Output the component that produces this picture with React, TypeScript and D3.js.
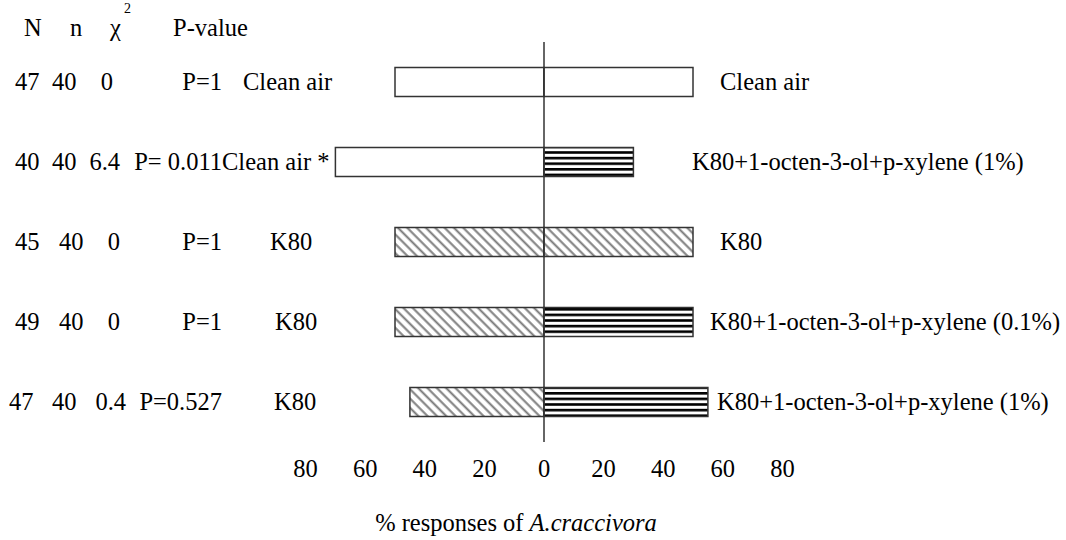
import React from "react";
import * as d3 from "d3";

// ---- data ----
const rowIds = ["r1", "r2", "r3", "r4", "r5"];
const totalN = ["47", "40", "45", "49", "47"];
const respondN = ["40", "40", "40", "40", "40"];
const chiSq = ["0", "6.4", "0", "0", "0.4"];
const pValues = ["P=1", "P= 0.011", "P=1", "P=1", "P=0.527"];
const leftLabels = ["Clean air", "Clean air *", "K80", "K80", "K80"];
const rightLabels = [
  "Clean air",
  "K80+1-octen-3-ol+p-xylene (1%)",
  "K80",
  "K80+1-octen-3-ol+p-xylene (0.1%)",
  "K80+1-octen-3-ol+p-xylene (1%)",
];
const leftValues = [50, 70, 50, 50, 45];
const rightValues = [50, 30, 50, 50, 55];
const leftFills = ["open", "open", "diag", "diag", "diag"];
const rightFills = ["open", "stripe", "diag", "stripe", "stripe"];
const xTicks = [-80, -60, -40, -20, 0, 20, 40, 60, 80];

// ---- layout (positions only) ----
const W = 1066;
const H = 540;
const FS = 24.5;
const FAMILY = `"Times New Roman"`;
const colNx = [15, 15, 15, 15, 9];
const colnX = [52, 52, 59, 59, 52];
const colChiRight = [113, 120, 120, 120, 126];
const colPRight = 222;
const leftLabelX = [243, 222, 270, 275, 274];
const rightLabelX = [720, 692, 720, 710, 717];

export default function App() {
  const x = d3.scaleLinear().domain([-80, 80]).range([305.6, 782.4]);
  const y = d3.scalePoint<string>().domain(rowIds).range([42, 442]).padding(0.5);
  const barH = 29;
  const fillOf = (k: string) =>
    k === "open" ? "#ffffff" : k === "diag" ? "url(#diagHatch)" : "url(#hStripe)";
  const st = { fontFamily: FAMILY, fontSize: FS };

  return (
    <svg width={W} height={H} style={{ position: "absolute", left: 0, top: 0 }}>
      <defs>
        <pattern
          id="diagHatch"
          patternUnits="userSpaceOnUse"
          width={6.6}
          height={6.6}
          patternTransform="rotate(-45)"
        >
          <rect width={6.6} height={6.6} fill="#fff" />
          <line x1={1.5} y1={0} x2={1.5} y2={6.6} stroke="#7a7a7a" strokeWidth={2} />
        </pattern>
        <pattern id="hStripe" patternUnits="userSpaceOnUse" width={10} height={5.6}>
          <rect width={10} height={5.6} fill="#fff" />
          <rect y={0} width={10} height={2.6} fill="#000" />
        </pattern>
      </defs>

      {/* header */}
      <text x={24} y={36} style={st}>N</text>
      <text x={70} y={36} style={st}>n</text>
      <text x={110} y={36} style={st}>χ</text>
      <text x={124} y={13} style={{ fontFamily: FAMILY, fontSize: 14 }}>2</text>
      <text x={173} y={36} style={st}>P-value</text>

      {/* bars */}
      {rowIds.map((id, i) => {
        const cy = y(id)!;
        return (
          <g key={"bar" + id}>
            <rect
              x={x(-leftValues[i])}
              y={cy - barH / 2}
              width={x(0) - x(-leftValues[i])}
              height={barH}
              fill={fillOf(leftFills[i])}
              stroke="#333"
              strokeWidth={1.5}
            />
            <rect
              x={x(0)}
              y={cy - barH / 2}
              width={x(rightValues[i]) - x(0)}
              height={barH}
              fill={fillOf(rightFills[i])}
              stroke="#333"
              strokeWidth={1.5}
            />
          </g>
        );
      })}

      {/* zero axis line */}
      <line x1={x(0)} x2={x(0)} y1={42} y2={442} stroke="#333" strokeWidth={1.5} />

      {/* row texts */}
      {rowIds.map((id, i) => {
        const by = y(id)! + 8;
        return (
          <g key={"t" + id}>
            <text x={colNx[i]} y={by} style={st}>{totalN[i]}</text>
            <text x={colnX[i]} y={by} style={st}>{respondN[i]}</text>
            <text x={colChiRight[i]} y={by} textAnchor="end" style={st}>{chiSq[i]}</text>
            <text x={colPRight} y={by} textAnchor="end" style={st}>{pValues[i]}</text>
            <text x={leftLabelX[i]} y={by} style={st}>{leftLabels[i]}</text>
            <text x={rightLabelX[i]} y={by} style={st}>{rightLabels[i]}</text>
          </g>
        );
      })}

      {/* x tick labels */}
      {xTicks.map((t) => (
        <text key={"xt" + t} x={x(t)} y={477} textAnchor="middle" style={st}>
          {String(Math.abs(t))}
        </text>
      ))}

      {/* x axis title */}
      <text x={x(0) - 28} y={531} textAnchor="middle" style={st}>
        % responses of <tspan style={{ fontStyle: "italic" }}>A.craccivora</tspan>
      </text>
    </svg>
  );
}
